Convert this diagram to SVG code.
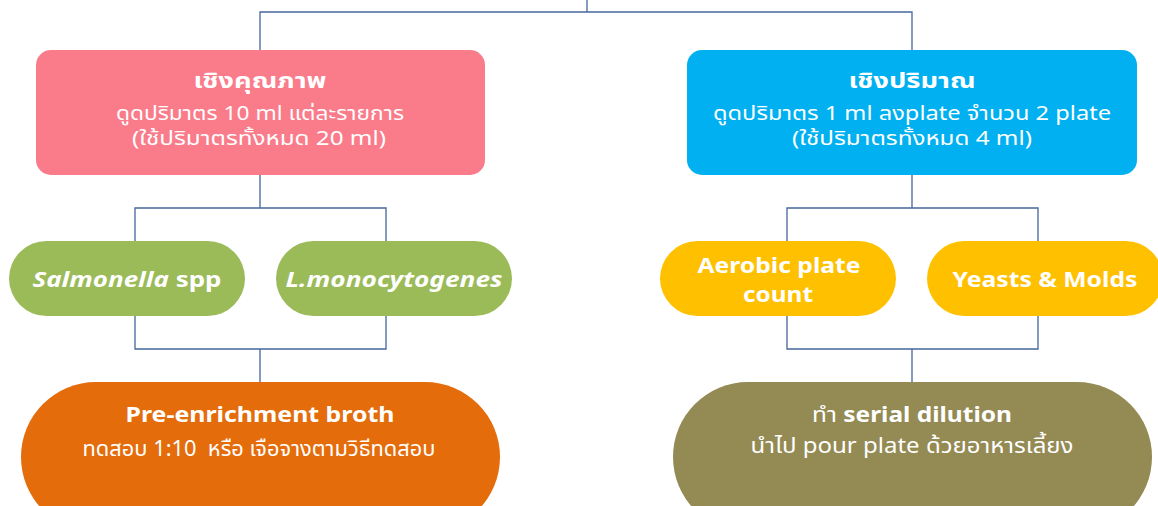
<svg xmlns="http://www.w3.org/2000/svg" width="1158" height="506" viewBox="0 0 1158 506">
<style>
.t{font-family:"Noto Sans","Noto Sans Thai","Liberation Sans",sans-serif;fill:#ffffff;text-anchor:middle}
.b{font-weight:bold}
.i{font-style:italic}
.c{fill:none;stroke:#44679C;stroke-width:1.3}
</style>
<rect width="1158" height="506" fill="#ffffff"/>
<g id="connectors" class="c">
<path d="M587 0V12M260 50V12H912V50"/>
<path d="M260 175V208M135 241V208H386V241"/>
<path d="M135 316V349H386V316M260 349V382"/>
<path d="M912 175V208M787 241V208H1038V241"/>
<path d="M787 316V349H1038V316M912 349V382"/>
</g>
<g id="qualitative">
<rect x="36" y="50" width="449" height="125" rx="15" fill="#FA7B8A"/>
<text class="t b" x="260" y="88" font-size="21" textLength="133" lengthAdjust="spacingAndGlyphs">เชิงคุณภาพ</text>
<text class="t" x="260" y="120" font-size="19" textLength="288" lengthAdjust="spacingAndGlyphs">ดูดปริมาตร 10 ml แต่ละรายการ</text>
<text class="t" x="259" y="145" font-size="19" textLength="254" lengthAdjust="spacingAndGlyphs">(ใช้ปริมาตรทั้งหมด 20 ml)</text>
</g>
<g id="quantitative">
<rect x="687" y="50" width="450" height="125" rx="15" fill="#00B0F0"/>
<text class="t b" x="912" y="88" font-size="21" textLength="127" lengthAdjust="spacingAndGlyphs">เชิงปริมาณ</text>
<text class="t" x="912" y="120" font-size="19" textLength="398" lengthAdjust="spacingAndGlyphs">ดูดปริมาตร 1 ml ลงplate จำนวน 2 plate</text>
<text class="t" x="912" y="145" font-size="19" textLength="240" lengthAdjust="spacingAndGlyphs">(ใช้ปริมาตรทั้งหมด 4 ml)</text>
</g>
<g id="salmonella">
<rect x="9" y="241" width="236" height="75" rx="37.5" fill="#9BBB59"/>
<text class="t b" x="127" y="287" font-size="22" textLength="189" lengthAdjust="spacingAndGlyphs"><tspan class="i">Salmonella</tspan> spp</text>
</g>
<g id="listeria">
<rect x="276" y="241" width="236" height="75" rx="37.5" fill="#9BBB59"/>
<text class="t b i" x="394" y="287" font-size="22" textLength="217" lengthAdjust="spacingAndGlyphs">L.monocytogenes</text>
</g>
<g id="aerobic">
<rect x="660" y="241" width="236" height="75" rx="37.5" fill="#FFC000"/>
<text class="t b" x="779" y="273" font-size="22" textLength="163" lengthAdjust="spacingAndGlyphs">Aerobic plate</text>
<text class="t b" x="778" y="302" font-size="22" textLength="70" lengthAdjust="spacingAndGlyphs">count</text>
</g>
<g id="yeasts">
<rect x="927" y="241" width="236" height="75" rx="37.5" fill="#FFC000"/>
<text class="t b" x="1045" y="287" font-size="22" textLength="185" lengthAdjust="spacingAndGlyphs">Yeasts &amp; Molds</text>
</g>
<g id="preenrichment">
<rect x="21" y="382" width="479" height="150" rx="75" fill="#E46C0A"/>
<text class="t b" x="260" y="422" font-size="22" textLength="269" lengthAdjust="spacingAndGlyphs">Pre-enrichment broth</text>
<text class="t" x="259" y="456" font-size="21" textLength="353" lengthAdjust="spacingAndGlyphs" xml:space="preserve">ทดสอบ 1:10  หรือ เจือจางตามวิธีทดสอบ</text>
</g>
<g id="serial">
<rect x="673" y="382" width="479" height="150" rx="75" fill="#948A54"/>
<text class="t" x="912" y="422" font-size="22" textLength="200" lengthAdjust="spacingAndGlyphs">ทำ <tspan class="b">serial dilution</tspan></text>
<text class="t" x="912" y="453" font-size="21" textLength="323" lengthAdjust="spacingAndGlyphs">นำไป pour plate ด้วยอาหารเลี้ยง</text>
</g>
</svg>
